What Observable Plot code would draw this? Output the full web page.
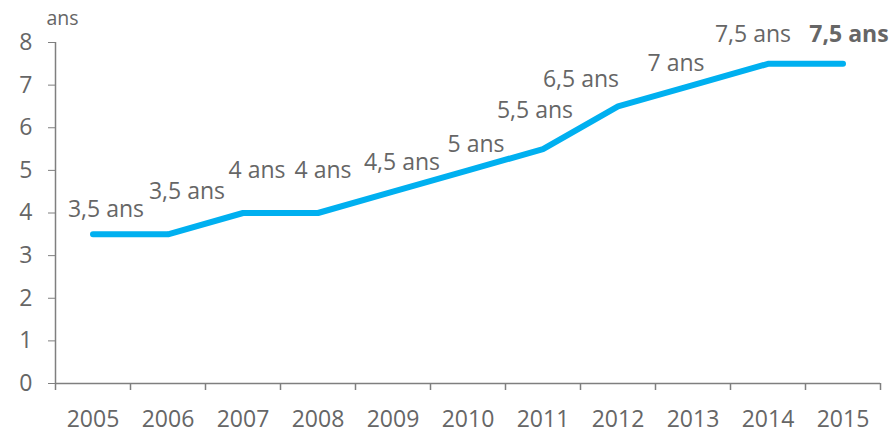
<!DOCTYPE html>
<html><head><meta charset="utf-8">
<script src="https://cdn.jsdelivr.net/npm/d3@7"></script>
<script src="https://cdn.jsdelivr.net/npm/@observablehq/plot@0.6"></script>
<style>
body{margin:0;background:#fff;}
#chart svg{font-family:"Open Sans",sans-serif;display:block;}
</style></head><body><div id="chart"></div>
<script>
const years = [2005,2006,2007,2008,2009,2010,2011,2012,2013,2014,2015];
const values = [3.5,3.5,4,4,4.5,5,5.5,6.5,7,7.5,7.5];
const labels = ["3,5 ans","3,5 ans","4 ans","4 ans","4,5 ans","5 ans","5,5 ans","6,5 ans","7 ans","7,5 ans","7,5 ans"];
const yTicks = [0,1,2,3,4,5,6,7,8];
const unitLabel = "ans";
// label placement offsets [dx, dy] relative to each point (layout only)
const labelOffsets = [[13,-25],[19,-43],[14,-42],[5,-42],[9,-29],[8,-26],[-8,-38],[-37,-27],[-17,-22],[-15,-29],[6,-29]];

const data = years.map((y,i)=>({year:y, value:values[i], label:labels[i]}));
const grey = "#7f7f7f", textCol = "#666666", blue = "#00B0F0";
const boundaries = d3.range(years[0]-0.5, years[years.length-1]+1, 1);

const labelMarks = data.map((d,i)=>Plot.text([d],{
  x:"year", y:"value", text:"label",
  dx:labelOffsets[i][0], dy:labelOffsets[i][1],
  fill:textCol, fontSize:23, fontWeight: i===data.length-1 ? "bold" : "normal"
}));

const chart = Plot.plot({
  width:896, height:435,
  marginLeft:55, marginRight:16, marginTop:42, marginBottom:52,
  style:{fontFamily:"'Open Sans', sans-serif", color:textCol, background:"#fff"},
  x:{type:"linear", domain:[years[0]-0.5, years[years.length-1]+0.5]},
  y:{type:"linear", domain:[0,8]},
  marks:[
    Plot.axisY({ticks:yTicks, tickSize:7, tickPadding:16, fontSize:23, stroke:grey, tickFormat:d=>String(d), label:null}),
    Plot.axisX({ticks:years, tickSize:0, tickPadding:27, fontSize:23, tickFormat:d=>String(d), label:null}),
    Plot.axisX({ticks:boundaries, tickSize:7, stroke:grey, strokeWidth:1.5, tickFormat:()=>"", label:null}),
    Plot.ruleY([0], {stroke:grey, strokeWidth:1.5}),
    Plot.ruleX([years[0]-0.5], {stroke:grey, strokeWidth:1.5}),
    Plot.line(data, {x:"year", y:"value", stroke:blue, strokeWidth:6, strokeLinecap:"round", strokeLinejoin:"miter"}),
    ...labelMarks,
    Plot.text([unitLabel], {text:d=>d, frameAnchor:"top-left", dx:7, dy:-31, fill:textCol, fontSize:19.5, textAnchor:"middle"})
  ]
});
document.getElementById("chart").appendChild(chart);
</script></body></html>
